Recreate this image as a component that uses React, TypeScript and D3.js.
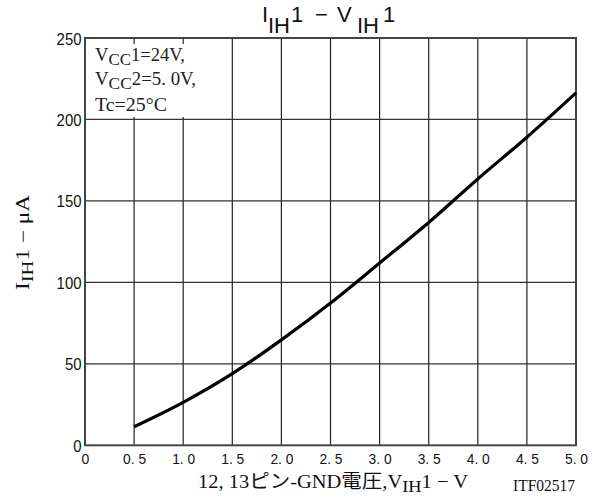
import React from "react";
import * as d3 from "d3";

const voltages = [0.5, 1.0, 1.5, 2.0, 2.5, 3.0, 3.5, 4.0, 4.5, 5.0];
const currents = [11.4, 26.4, 44.0, 64.7, 87.3, 111.9, 136.8, 163.5, 189.1, 216.3];
const xTicks = [0, 0.5, 1.0, 1.5, 2.0, 2.5, 3.0, 3.5, 4.0, 4.5, 5.0];
const yTicks = [0, 50, 100, 150, 200, 250];

const W = 603;
const H = 499;
const L = 85, R = 576, T = 38, B = 445.3;

export default function App() {
  const x = d3.scaleLinear().domain([0, 5]).range([L, R]);
  const y = d3.scaleLinear().domain([0, 250]).range([B, T]);
  const line = d3
    .line<number>()
    .x((_, i) => x(voltages[i]))
    .y((d) => y(d))
    .curve(d3.curveMonotoneX);
  const path = line(currents) || "";
  const sans = "'Liberation Sans', Arial, sans-serif";
  const serif = "'Liberation Serif', 'Noto Sans CJK JP', serif";
  const fmtX = (v: number) => (v === 0 ? "0" : v.toFixed(1).replace(".", ". "));

  return (
    <svg width={W} height={H} style={{ position: "absolute", left: 0, top: 0, background: "#fff" }}>
      <rect x={0} y={0} width={W} height={H} fill="#fff" />
      {/* grid */}
      {xTicks.slice(1, -1).map((t) => (
        <line key={"gx" + t} x1={x(t)} x2={x(t)} y1={T} y2={B} stroke="#222" strokeWidth={1.2} />
      ))}
      {yTicks.slice(1, -1).map((t) => (
        <line key={"gy" + t} x1={L} x2={R} y1={y(t)} y2={y(t)} stroke="#333" strokeWidth={1.2} />
      ))}
      {/* annotation box */}
      <rect x={L + 1} y={44} width={114} height={73} fill="#fff" />
      <g fontFamily={serif} fontSize={18.5} fill="#222">
        <text x={95} y={61} textLength={90} lengthAdjust="spacingAndGlyphs">
          V<tspan fontSize={17} dy={4}>CC</tspan><tspan dy={-4}>1=24V,</tspan>
        </text>
        <text x={95} y={85} textLength={101} lengthAdjust="spacingAndGlyphs">
          V<tspan fontSize={17} dy={4}>CC</tspan><tspan dy={-4}>2=5. 0V,</tspan>
        </text>
        <text x={95} y={110.5} textLength={72} lengthAdjust="spacingAndGlyphs">Tc=25°C</text>
      </g>
      {/* frame */}
      <rect x={L} y={T} width={R - L} height={B - T} fill="none" stroke="#444" strokeWidth={2} />
      {/* curve */}
      <path d={path} fill="none" stroke="#000" strokeWidth={3.2} />
      {/* y tick labels */}
      <g fontFamily={sans} fontSize={16} fill="#111" textAnchor="end">
        {yTicks.map((t) => (
          <text
            key={"yl" + t}
            x={L - 3.5}
            y={y(t) + 6.5}
            textLength={String(t).length * 8.3}
            lengthAdjust="spacingAndGlyphs"
          >
            {t}
          </text>
        ))}
      </g>
      {/* x tick labels */}
      <g fontFamily={sans} fontSize={15} fill="#111" textAnchor="middle">
        {xTicks.map((t) => (
          <text
            key={"xl" + t}
            x={x(t) + 0.5}
            y={464}
            xmlSpace="preserve"
            textLength={t === 0 ? 7.8 : 23}
            lengthAdjust="spacingAndGlyphs"
          >
            {fmtX(t)}
          </text>
        ))}
      </g>
      {/* title */}
      <g fontFamily={sans} fontSize={22} fill="#111">
        <text x={262} y={22}>I</text>
        <text x={268} y={33}>IH</text>
        <text x={291} y={22}>1</text>
        <text x={315} y={22}>−</text>
        <text x={337} y={22}>V</text>
        <text x={357} y={33}>IH</text>
        <text x={383} y={22}>1</text>
      </g>
      {/* x axis title */}
      <text x={198} y={488} fontFamily={serif} fontSize={19} fill="#111" textLength={270} lengthAdjust="spacingAndGlyphs">
        12, 13ピン-GND電圧,V<tspan fontSize={17} dy={4}>IH</tspan><tspan dy={-4}>1 − V</tspan>
      </text>
      <text x={513} y={491} fontFamily={serif} fontSize={16} fill="#111" textLength={62} lengthAdjust="spacingAndGlyphs">ITF02517</text>
      {/* y axis title */}
      <g transform="translate(29,242.5) rotate(-90)">
        <text x={-47.5} y={0} fontFamily={serif} fontSize={18} fill="#111" textLength={95} lengthAdjust="spacingAndGlyphs">
          I<tspan fontSize={16} dy={4}>IH</tspan><tspan dy={-4}>1 − μA</tspan>
        </text>
      </g>
    </svg>
  );
}
